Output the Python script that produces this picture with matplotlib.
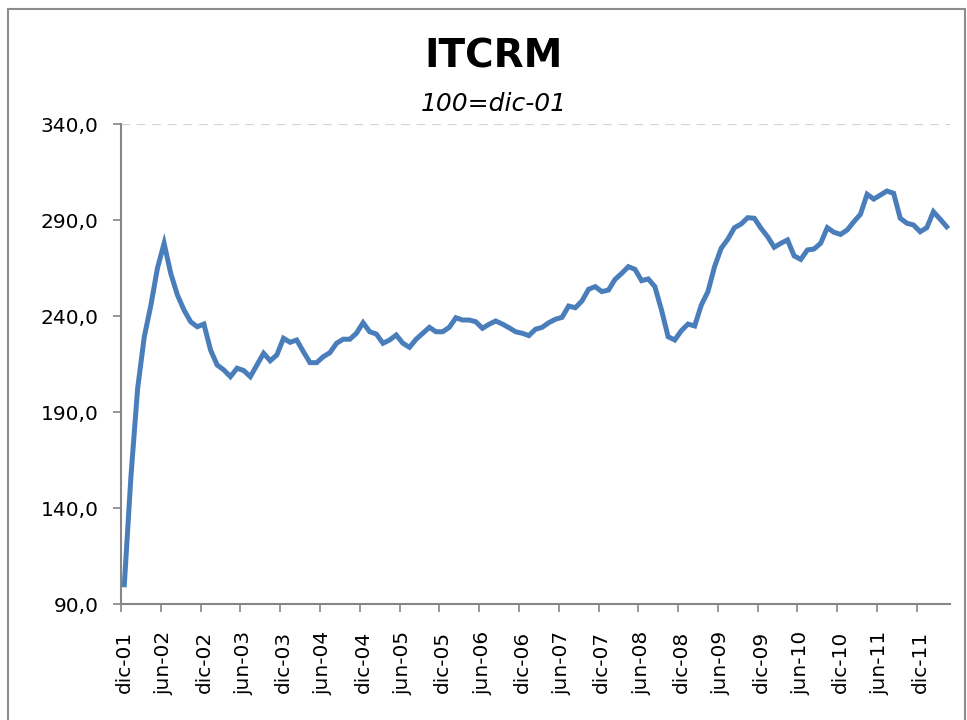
import numpy as np
import matplotlib.pyplot as plt
from matplotlib.patches import Rectangle

# monthly index, dic-01 .. abr-12 (100 = dic-01)
itcrm = [
    100.0, 156.5, 202.0, 229.0, 245.5, 265.0, 277.8, 262.2, 251.0, 243.1,
    237.0, 234.4, 235.8, 222.3, 214.5, 211.9, 208.4, 212.8, 211.6, 208.4,
    214.5, 220.6, 216.7, 219.7, 228.4, 226.3, 227.5, 221.4, 215.7, 215.7,
    218.8, 220.9, 225.8, 227.9, 227.9, 231.0, 236.5, 231.8, 230.6, 225.8,
    227.5, 230.1, 225.8, 223.7, 227.9, 231.0, 234.1, 231.8, 231.8, 234.1,
    239.1, 237.9, 237.9, 237.0, 233.6, 235.7, 237.4, 235.8, 233.9, 231.8,
    231.0, 229.8, 233.1, 234.1, 236.5, 238.3, 239.3, 245.2, 244.3, 247.8,
    253.9, 255.3, 252.7, 253.5, 259.1, 262.2, 265.7, 264.3, 258.4, 259.3,
    255.3, 243.1, 229.2, 227.5, 232.4, 235.8, 234.8, 245.7, 252.7, 265.7,
    275.3, 280.0, 286.0, 287.9, 291.2, 290.9, 285.7, 281.3, 275.8, 277.9,
    279.6, 271.3, 269.5, 274.4, 274.9, 277.9, 286.0, 283.6, 282.5, 284.8,
    289.1, 293.0, 303.4, 300.9, 303.0, 305.1, 303.9, 290.9, 288.3, 287.4,
    283.9, 286.0, 294.3, 290.5, 286.5,
]
tick_labels = ['dic-01', 'jun-02', 'dic-02', 'jun-03', 'dic-03', 'jun-04', 'dic-04',
               'jun-05', 'dic-05', 'jun-06', 'dic-06', 'jun-07', 'dic-07', 'jun-08',
               'dic-08', 'jun-09', 'dic-09', 'jun-10', 'dic-10', 'jun-11', 'dic-11']
y_ticks = [90, 140, 190, 240, 290, 340]

n = len(itcrm)
x = np.arange(n)

fig = plt.figure(figsize=(9.67, 7.2), dpi=100)
ax = fig.add_axes([121/967, 1 - 604/720, (950 - 121)/967, (604 - 124)/720])

# outer chart frame
fig.patches.append(Rectangle((8/967, -0.05), (965 - 8)/967, 1.05 - 9/720,
                             transform=fig.transFigure, fill=False,
                             edgecolor='#8c8c8c', linewidth=1.5))

ax.plot(x, itcrm, color='#4a7ebb', linewidth=3.6, solid_joinstyle='miter')

ax.set_xlim(-0.5, n - 0.5)
ax.set_ylim(90, 340)

# y axis
ax.set_yticks(y_ticks)
ax.set_yticklabels([f"{v:.1f}".replace('.', ',') for v in y_ticks])
ax.axhline(340, color='#d4d4d4', linestyle=(0, (4, 3)), linewidth=1.6, zorder=0)
ax.tick_params(axis='y', length=6, width=1.2, color='#868686', pad=10,
               labelsize=14.5)

# x axis: tick marks between categories, labels every 6 months
ax.set_xticks(np.arange(0, n, 6)[:len(tick_labels)])
ax.set_xticklabels(tick_labels, rotation=90)
ax.set_xticks(np.arange(0, n, 6)[:len(tick_labels)] - 0.5, minor=True)
ax.tick_params(axis='x', which='major', length=0, pad=19, labelsize=14.5)
ax.tick_params(axis='x', which='minor', length=6, width=1.2, color='#868686')

for side in ['top', 'right']:
    ax.spines[side].set_visible(False)
for side in ['left', 'bottom']:
    ax.spines[side].set_color('#868686')
    ax.spines[side].set_linewidth(1.5)

fig.text(494/967, 1 - 57/720, 'ITCRM', ha='center', va='center',
         fontsize=28, fontweight='bold')
fig.text(494/967, 1 - 104/720, '100=dic-01', ha='center', va='center',
         fontsize=18, style='italic')

fig.savefig('out.png', dpi=100)
